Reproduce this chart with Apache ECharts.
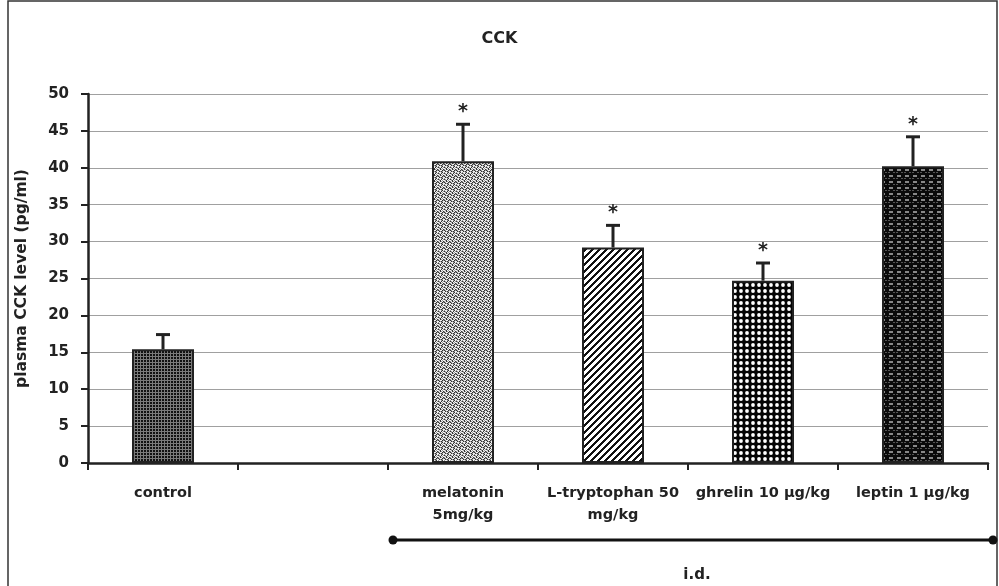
<!DOCTYPE html>
<html><head><meta charset="utf-8">
<script src="https://cdn.jsdelivr.net/npm/echarts@6/dist/echarts.min.js"></script>
<style>html,body{margin:0;padding:0;background:#fff}#c{width:999px;height:586px}</style>
</head><body><div id="c"></div>
<script>
const categories = ['control', '', 'melatonin\n5mg/kg', 'L-tryptophan 50\nmg/kg', 'ghrelin 10 µg/kg', 'leptin 1 µg/kg'];
const values = [15.4, null, 40.9, 29.2, 24.7, 40.2];
const errorTops = [17.4, null, 45.9, 32.2, 27.1, 44.2];
const significant = [false, false, true, true, true, true];
const yTicks = [0, 50, 5];

function tile(w, h, draw) {
  const c = document.createElement('canvas'); c.width = w; c.height = h;
  const ctx = c.getContext('2d'); draw(ctx, w, h); return c;
}
const patControl = tile(3, 3, (ctx) => { ctx.fillStyle = '#7a7a7a'; ctx.fillRect(0,0,3,3); ctx.fillStyle = '#111'; ctx.fillRect(0,0,2,2); });
const melaPix = ['wgdwgw','gwdgwd','dgwwdg','wdgdgw','gwwgdw','dgwdwg'];
const patMela = tile(6, 6, (ctx) => {
  const col = {w:'#f4f4f4', g:'#9a9a9a', d:'#333'};
  for (let y=0;y<6;y++) for (let x=0;x<6;x++){ ctx.fillStyle = col[melaPix[y][x]]; ctx.fillRect(x,y,1,1); }
});
const patTrp = tile(7, 7, (ctx) => {
  for (let y=0;y<7;y++) for (let x=0;x<7;x++){ ctx.fillStyle = ((x+y)%7) < 3 ? '#111' : '#fff'; ctx.fillRect(x,y,1,1); }
});
const patGhr = tile(6, 6, (ctx) => { ctx.fillStyle='#050505'; ctx.fillRect(0,0,6,6); ctx.fillStyle='#fff'; ctx.beginPath(); ctx.arc(3,3,1.9,0,Math.PI*2); ctx.fill(); });
const patLep = tile(8, 6, (ctx) => { ctx.fillStyle='#0a0a0a'; ctx.fillRect(0,0,8,6); ctx.fillStyle='#888'; ctx.fillRect(1,1,4,2); ctx.fillStyle='#555'; ctx.fillRect(5,4,2,1); ctx.fillRect(0,4,2,1); });
const patterns = [patControl, null, patMela, patTrp, patGhr, patLep];

const barData = values.map((v, i) => v == null ? '-' : ({
  value: v,
  itemStyle: { color: { image: patterns[i], repeat: 'repeat' }, borderColor: '#222', borderWidth: 2 }
}));
const errData = values.map((v, i) => v == null ? null : [i, v, errorTops[i], significant[i] ? 1 : 0]).filter(d => d);

const chart = echarts.init(document.getElementById('c'));
const FONT = '"DejaVu Sans", sans-serif';
chart.setOption({
  animation: false,
  backgroundColor: '#fff',
  title: { text: 'CCK', left: 'center', top: 26, textStyle: { fontFamily: FONT, fontWeight: 'bold', fontSize: 16, color: '#222' } },
  grid: { left: 88, right: 11, top: 94, bottom: 123 },
  xAxis: {
    type: 'category', data: categories,
    axisLine: { lineStyle: { color: '#222', width: 2.5 } },
    axisTick: { show: true, interval: 0, length: 7, lineStyle: { color: '#222', width: 2 } },
    axisLabel: { interval: 0, margin: 19, fontFamily: FONT, fontWeight: 'bold', fontSize: 14.5, color: '#222', lineHeight: 22 }
  },
  yAxis: {
    type: 'value', min: yTicks[0], max: yTicks[1], interval: yTicks[2],
    name: 'plasma CCK level (pg/ml)', nameLocation: 'middle', nameGap: 58, nameRotate: 90,
    nameTextStyle: { fontFamily: FONT, fontWeight: 'bold', fontSize: 15.5, color: '#222' },
    axisLine: { show: true, lineStyle: { color: '#222', width: 2.5 } },
    axisTick: { show: true, length: 7, lineStyle: { color: '#222', width: 2 } },
    axisLabel: { margin: 19, fontFamily: FONT, fontWeight: 'bold', fontSize: 15, color: '#222' },
    splitLine: { lineStyle: { color: '#a0a0a0', width: 1 } }
  },
  series: [
    { type: 'bar', data: barData, barWidth: 62, z: 3 },
    { type: 'custom', data: errData, encode: { x: 0, y: 2 }, z: 4,
      renderItem: (params, api) => {
        const i = api.value(0);
        const p0 = api.coord([i, api.value(1)]);
        const p1 = api.coord([i, api.value(2)]);
        const ch = [
          { type: 'line', shape: { x1: p0[0], y1: p0[1], x2: p1[0], y2: p1[1] }, style: { stroke: '#222', lineWidth: 3 } },
          { type: 'line', shape: { x1: p1[0]-7, y1: p1[1], x2: p1[0]+7, y2: p1[1] }, style: { stroke: '#222', lineWidth: 3 } }
        ];
        if (api.value(3)) ch.push({ type: 'text', style: { text: '*', x: p1[0], y: p1[1]-12, align: 'center', verticalAlign: 'middle', font: 'bold 19px ' + FONT, fill: '#222' } });
        return { type: 'group', children: ch };
      }
    }
  ],
  graphic: [
    { type: 'rect', shape: { x: 8, y: 1, width: 989, height: 620 }, style: { fill: 'none', stroke: '#333', lineWidth: 1.5 }, silent: true },
    { type: 'line', shape: { x1: 393, y1: 540, x2: 993, y2: 540 }, style: { stroke: '#111', lineWidth: 3 } },
    { type: 'circle', shape: { cx: 393, cy: 540, r: 4.5 }, style: { fill: '#111' } },
    { type: 'circle', shape: { cx: 993, cy: 540, r: 4.5 }, style: { fill: '#111' } },
    { type: 'text', style: { text: 'i.d.', x: 697, y: 575, align: 'center', verticalAlign: 'middle', font: 'bold 15px ' + FONT, fill: '#222' } }
  ]
});
</script></body></html>
